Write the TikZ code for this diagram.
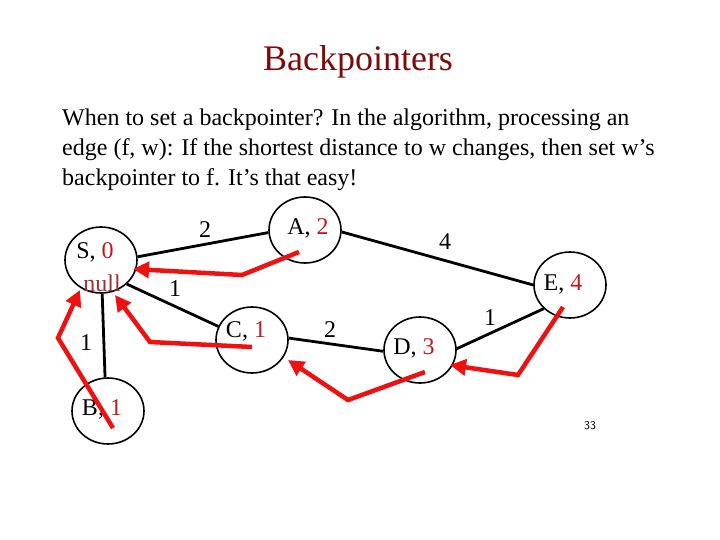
\documentclass[tikz,border=0pt]{standalone}
\usepackage{fontspec}
\setmainfont{Liberation Serif}
\usetikzlibrary{shapes.geometric,arrows.meta}
\definecolor{titlered}{HTML}{7F0A0A}
\definecolor{numred}{HTML}{C4161C}
\definecolor{nullred}{HTML}{A0302F}
\definecolor{ptrred}{HTML}{EE1111}
\tikzset{
  vtx/.style={ellipse,draw=black,line width=1.6pt,minimum width=72pt,minimum height=66pt,inner sep=0pt},
  lbl/.style={font=\fontsize{24}{28}\selectfont,inner sep=0pt},
  body/.style={font=\fontsize{24}{30}\selectfont,inner sep=0pt,anchor=base west},
  edge/.style={line width=2.8pt,black},
  ptr/.style={line width=4.5pt,ptrred,line join=miter,-{Triangle[length=16pt,width=16pt]}}
}
\begin{document}
\begin{tikzpicture}[x=1pt,y=-1pt]
\useasboundingbox (0,0) rectangle (720,540);
\node[font=\fontsize{36}{40}\selectfont,text=titlered,inner sep=0pt,anchor=base] (title) at (358,71) {Backpointers};
\node[body] (l1) at (62,126) {When to set a backpointer? In the algorithm, processing an};
\node[body] (l2) at (62,156) {edge (f, w): If the shortest distance to w changes, then set w’s};
\node[body] (l3) at (62,186) {backpointer to f. It’s that easy!};

\node[vtx] (S) at (101,260) {};
\node[vtx] (A) at (305,230) {};
\node[vtx] (C) at (252,340) {};
\node[vtx] (B) at (108,411) {};
\node[vtx] (D) at (420,350) {};
\node[vtx] (E) at (570,285) {};

\node[lbl] (Sl) at (95,252) {S, \textcolor{numred}{0}};
\node[lbl] (Sn) at (102,283) {\textcolor{nullred}{null}};
\node[lbl] (Al) at (308,228) {A, \textcolor{numred}{2}};
\node[lbl] (Cl) at (246,331) {C, \textcolor{numred}{1}};
\node[lbl] (Bl) at (102,409) {B, \textcolor{numred}{1}};
\node[lbl] (Dl) at (414,348) {D, \textcolor{numred}{3}};
\node[lbl] (El) at (563,284) {E, \textcolor{numred}{4}};

\draw[edge] (S.5) -- (A.184);
\draw[edge] (S.-43) -- (C.158);
\draw[edge] (S.-88) -- (B.95);
\draw[edge] (A.-3) -- (E.180);
\draw[edge] (C.3) -- (D.182);
\draw[edge] (D.2) -- (E.222);

\node[lbl] (w1) at (205,230) {2};
\node[lbl] (w2) at (175,289) {1};
\node[lbl] (w3) at (86,343) {1};
\node[lbl] (w4) at (445,242) {4};
\node[lbl] (w5) at (330,330) {2};
\node[lbl] (w6) at (490,318) {1};

\coordinate (a0) at (299,252);
\coordinate (a1) at (242,275);
\coordinate (a2) at (133,269);
\coordinate (c0) at (252,347);
\coordinate (c1) at (150,342);
\coordinate (c2) at (115,295);
\coordinate (b0) at (113,428);
\coordinate (b1) at (58,338);
\coordinate (b2) at (80,290);
\coordinate (d0) at (425,372);
\coordinate (d1) at (348,400);
\coordinate (d2) at (288,360);
\coordinate (e0) at (563,307);
\coordinate (e1) at (518,375);
\coordinate (e2) at (450,365);

\draw[ptr] (a0) -- (a1) -- (a2);
\draw[ptr] (c0) -- (c1) -- (c2);
\draw[ptr] (b0) -- (b1) -- (b2);
\draw[ptr] (d0) -- (d1) -- (d2);
\draw[ptr] (e0) -- (e1) -- (e2);

\node[font=\sffamily\fontsize{12}{14}\selectfont,inner sep=0pt] (pg) at (590,426) {33};
\end{tikzpicture}
\end{document}
